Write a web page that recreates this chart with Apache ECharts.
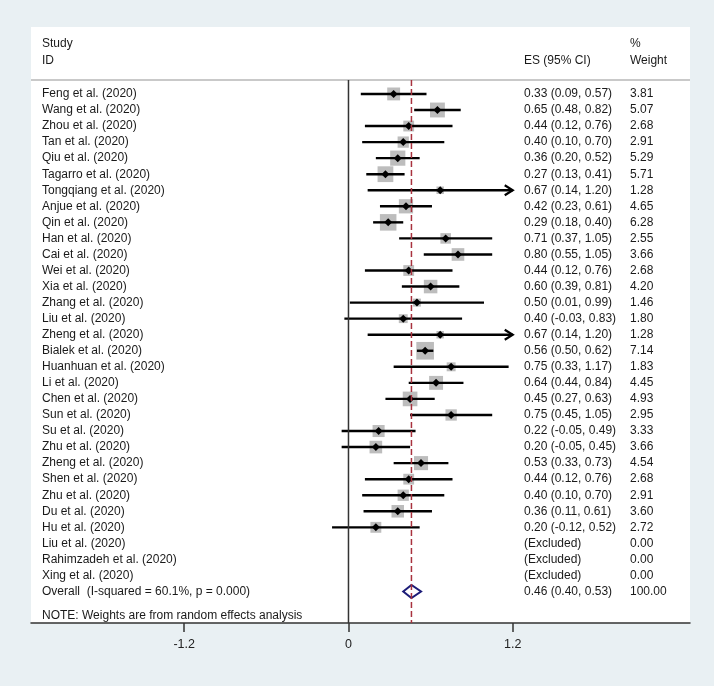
<!DOCTYPE html>
<html>
<head>
<meta charset="utf-8">
<script src="https://cdn.jsdelivr.net/npm/echarts@6/dist/echarts.min.js"></script>
<style>
  html, body { margin: 0; padding: 0; background: #e9f0f3; }
  #chart { width: 714px; height: 686px; }
</style>
</head>
<body>
<div id="chart"></div>
<script>
// study rows
const studies = [
  'Feng et al. (2020)', 'Wang et al. (2020)', 'Zhou et al. (2020)', 'Tan et al. (2020)',
  'Qiu et al. (2020)', 'Tagarro et al. (2020)', 'Tongqiang et al. (2020)', 'Anjue et al. (2020)',
  'Qin et al. (2020)', 'Han et al. (2020)', 'Cai et al. (2020)', 'Wei et al. (2020)',
  'Xia et al. (2020)', 'Zhang et al. (2020)', 'Liu et al. (2020)', 'Zheng et al. (2020)',
  'Bialek et al. (2020)', 'Huanhuan et al. (2020)', 'Li et al. (2020)', 'Chen et al. (2020)',
  'Sun et al. (2020)', 'Su et al. (2020)', 'Zhu et al. (2020)', 'Zheng et al. (2020)',
  'Shen et al. (2020)', 'Zhu et al. (2020)', 'Du et al. (2020)', 'Hu et al. (2020)',
  'Liu et al. (2020)', 'Rahimzadeh et al. (2020)', 'Xing et al. (2020)'
];
const es = [0.33, 0.65, 0.44, 0.40, 0.36, 0.27, 0.67, 0.42, 0.29, 0.71, 0.80, 0.44, 0.60, 0.50, 0.40, 0.67,
  0.56, 0.75, 0.64, 0.45, 0.75, 0.22, 0.20, 0.53, 0.44, 0.40, 0.36, 0.20, null, null, null];
const lower = [0.09, 0.48, 0.12, 0.10, 0.20, 0.13, 0.14, 0.23, 0.18, 0.37, 0.55, 0.12, 0.39, 0.01, -0.03, 0.14,
  0.50, 0.33, 0.44, 0.27, 0.45, -0.05, -0.05, 0.33, 0.12, 0.10, 0.11, -0.12, null, null, null];
const upper = [0.57, 0.82, 0.76, 0.70, 0.52, 0.41, 1.20, 0.61, 0.40, 1.05, 1.05, 0.76, 0.81, 0.99, 0.83, 1.20,
  0.62, 1.17, 0.84, 0.63, 1.05, 0.49, 0.45, 0.73, 0.76, 0.70, 0.61, 0.52, null, null, null];
const weights = [3.81, 5.07, 2.68, 2.91, 5.29, 5.71, 1.28, 4.65, 6.28, 2.55, 3.66, 2.68, 4.20, 1.46, 1.80, 1.28,
  7.14, 1.83, 4.45, 4.93, 2.95, 3.33, 3.66, 4.54, 2.68, 2.91, 3.60, 2.72, 0.00, 0.00, 0.00];

// pooled estimate
const overallLabel = 'Overall  (I-squared = 60.1%, p = 0.000)';
const overallES = 0.46;
const overallLower = 0.40;
const overallUpper = 0.53;
const overallWeight = 100.00;

const xTicks = [-1.2, 0, 1.2];

const FONT = "'Liberation Sans', Arial, sans-serif";
const TXT = '#1a1a1a';
const overallRow = studies.length;
const headerRow = -0.87;
const yMin = -4.17, yMax = 32.96;
const xMin = -2.3195, xMax = 2.4951;
const ciMax = xTicks[xTicks.length - 1];

function esText(i) {
  if (es[i] == null) return '(Excluded)';
  return es[i].toFixed(2) + ' (' + lower[i].toFixed(2) + ', ' + upper[i].toFixed(2) + ')';
}

function txt(x, y, s) {
  return { type: 'text', style: { x: x, y: y, text: s, fill: TXT, font: '12px ' + FONT, textVerticalAlign: 'middle' } };
}

function renderStudy(params, api) {
  const i = params.dataIndex;
  if (es[i] == null) return null;
  const p = api.coord([es[i], i]);
  const a = api.coord([lower[i], i]);
  const b = api.coord([Math.min(upper[i], ciMax), i]);
  const side = 6.6 * Math.sqrt(weights[i]);
  const children = [
    { type: 'rect', shape: { x: p[0] - side / 2, y: p[1] - side / 2, width: side, height: side }, style: { fill: '#bdbdbd' } },
    { type: 'line', shape: { x1: a[0], y1: a[1], x2: b[0], y2: b[1] }, style: { stroke: '#000', lineWidth: 2.4 } },
    { type: 'polygon', shape: { points: [[p[0] - 4, p[1]], [p[0], p[1] - 4], [p[0] + 4, p[1]], [p[0], p[1] + 4]] }, style: { fill: '#000' } }
  ];
  if (upper[i] >= ciMax) {
    children.push({ type: 'polyline', shape: { points: [[b[0] - 8, b[1] - 5], [b[0], b[1]], [b[0] - 8, b[1] + 5]] }, style: { stroke: '#000', lineWidth: 2.2, fill: null } });
  }
  return { type: 'group', children: children };
}

function renderOverall(params, api) {
  const c = api.coord([overallES, overallRow]);
  const l = api.coord([overallLower, overallRow]);
  const r = api.coord([overallUpper, overallRow]);
  return {
    type: 'polygon',
    shape: { points: [[l[0], c[1]], [c[0], c[1] - 6.5], [r[0], c[1]], [c[0], c[1] + 6.5]] },
    style: { stroke: '#1c1c78', lineWidth: 2, fill: '#fff' }
  };
}

function renderText(params, api) {
  const i = params.dataIndex;
  const y = api.coord([0, i])[1];
  const x0 = params.coordSys.x;
  if (i === overallRow) {
    return { type: 'group', children: [
      txt(x0 + 11, y, overallLabel),
      txt(x0 + 493, y, overallES.toFixed(2) + ' (' + overallLower.toFixed(2) + ', ' + overallUpper.toFixed(2) + ')'),
      txt(x0 + 599, y, overallWeight.toFixed(2))
    ] };
  }
  return { type: 'group', children: [
    txt(x0 + 11, y, studies[i]),
    txt(x0 + 493, y, esText(i)),
    txt(x0 + 599, y, weights[i].toFixed(2))
  ] };
}

const chart = echarts.init(document.getElementById('chart'));
const textRows = studies.map((s, i) => [0, i]).concat([[0, overallRow]]);

chart.setOption({
  backgroundColor: '#e9f0f3',
  animation: false,
  grid: {
    left: 31, right: 24, top: 27, bottom: 63,
    show: true, backgroundColor: '#ffffff', borderWidth: 0,
    containLabel: false, outerBoundsMode: 'none'
  },
  xAxis: {
    type: 'value', min: xMin, max: xMax,
    splitLine: { show: false },
    axisLine: { show: true, onZero: false, lineStyle: { color: '#333', width: 1.5 } },
    axisTick: { show: true, customValues: xTicks, length: 9, lineStyle: { color: '#333', width: 1.5 } },
    axisLabel: {
      customValues: xTicks, margin: 15, color: '#222', fontSize: 12.5, fontFamily: FONT,
      formatter: v => (v === 0 ? '0' : v.toFixed(1))
    }
  },
  yAxis: { type: 'value', inverse: true, min: yMin, max: yMax, show: false },
  graphic: [
    { type: 'text', left: 42, top: 38, style: { text: 'Study', fill: TXT, font: '12px ' + FONT } },
    { type: 'text', left: 42, top: 55, style: { text: 'ID', fill: TXT, font: '12px ' + FONT } },
    { type: 'text', left: 524, top: 55, style: { text: 'ES (95% CI)', fill: TXT, font: '12px ' + FONT } },
    { type: 'text', left: 630, top: 38, style: { text: '%', fill: TXT, font: '12px ' + FONT } },
    { type: 'text', left: 630, top: 55, style: { text: 'Weight', fill: TXT, font: '12px ' + FONT } },
    { type: 'text', left: 42, top: 610, style: { text: 'NOTE: Weights are from random effects analysis', fill: TXT, font: '12px ' + FONT } }
  ],
  series: [
    {
      type: 'line', data: [[xMin, headerRow], [xMax, headerRow]], symbol: 'none', silent: true,
      lineStyle: { color: '#c9c9c9', width: 2 }
    },
    {
      type: 'line', data: [[0, headerRow], [0, yMax]], symbol: 'none', silent: true,
      lineStyle: { color: '#333', width: 1.5 }
    },
    {
      type: 'line', data: [[overallES, headerRow], [overallES, yMax]], symbol: 'none', silent: true,
      lineStyle: { color: '#a8323e', width: 1.5, type: [6, 3] }
    },
    { type: 'custom', data: studies.map((s, i) => [es[i] == null ? 0 : es[i], i]), renderItem: renderStudy, silent: true, z: 3 },
    { type: 'custom', data: [[overallES, overallRow]], renderItem: renderOverall, silent: true, z: 3 },
    { type: 'custom', data: textRows, renderItem: renderText, silent: true, z: 4 }
  ]
});
</script>
</body>
</html>
